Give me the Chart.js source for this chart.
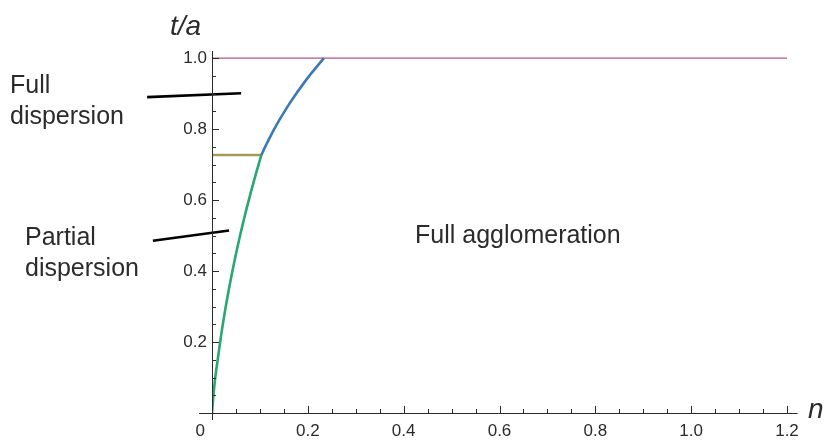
<!DOCTYPE html>
<html>
<head>
<meta charset="utf-8">
<script src="https://cdn.jsdelivr.net/npm/chart.js@4"></script>
<style>
  html, body { margin: 0; padding: 0; background: #fff; }
  #chart { display: block; }
</style>
</head>
<body>
<canvas id="chart" width="827" height="445"></canvas>
<script>
// values (n on x, t/a on y)
const partialN = [0, 0.0030, 0.0068, 0.0119, 0.0170, 0.0226, 0.0287, 0.0354, 0.0426, 0.0503, 0.0586, 0.0674, 0.0768, 0.0867, 0.0972, 0.103];
const partialT = [0, 0.05, 0.1, 0.15, 0.2, 0.25, 0.3, 0.35, 0.4, 0.45, 0.5, 0.55, 0.6, 0.65, 0.7, 0.727];
const fullN = [0.103, 0.1109, 0.1298, 0.1514, 0.176, 0.203, 0.2335];
const fullT = [0.727, 0.75, 0.8, 0.85, 0.9, 0.95, 1.0];
const upperN = [0, 1.2];
const upperT = [1, 1];
const kneeN = [0, 0.103];
const kneeT = [0.727, 0.727];
// pointer strokes next to the region names
const pointer1N = [-0.1354, 0.0607];
const pointer1T = [0.890, 0.901];
const pointer2N = [-0.1234, 0.0356];
const pointer2T = [0.4854, 0.5144];

const xMajor = [0, 0.2, 0.4, 0.6, 0.8, 1.0, 1.2];
const yMajor = [0.2, 0.4, 0.6, 0.8, 1.0];

const pts = (xs, ys) => xs.map((x, i) => ({ x, y: ys[i] }));
const isMajor = (v, list) => list.some(m => Math.abs(m - v) < 1e-6);

const INK = '#2b2b2b';
const FONT = '"Liberation Sans", Arial, sans-serif';

function line(data, color, width, extra) {
  return Object.assign({
    data,
    borderColor: color,
    borderWidth: width,
    pointRadius: 0,
    showLine: true,
    fill: false
  }, extra || {});
}

// inward ticks, overhanging axis lines and the text labels
const decor = {
  id: 'decor',
  afterDraw(chart) {
    const ctx = chart.ctx;
    const xs = chart.scales.x, ys = chart.scales.y;
    const x0 = xs.getPixelForValue(0), y0 = ys.getPixelForValue(0);
    ctx.save();
    ctx.strokeStyle = INK;
    ctx.lineWidth = 1;
    ctx.beginPath();
    ctx.moveTo(xs.getPixelForValue(-0.027), y0 + 0.5);
    ctx.lineTo(xs.getPixelForValue(1.222), y0 + 0.5);
    ctx.moveTo(x0 + 0.5, ys.getPixelForValue(-0.02));
    ctx.lineTo(x0 + 0.5, ys.getPixelForValue(1.02));
    xs.ticks.forEach(t => {
      const px = Math.round(xs.getPixelForValue(t.value)) + 0.5;
      const len = isMajor(t.value, xMajor) ? 7 : 4;
      ctx.moveTo(px, y0);
      ctx.lineTo(px, y0 - len);
    });
    ys.ticks.forEach(t => {
      const py = Math.round(ys.getPixelForValue(t.value)) + 0.5;
      const len = isMajor(t.value, yMajor) ? 7 : 4;
      ctx.moveTo(x0, py);
      ctx.lineTo(x0 + len, py);
    });
    ctx.stroke();

    ctx.fillStyle = INK;
    ctx.textAlign = 'left';
    ctx.textBaseline = 'alphabetic';
    ctx.font = '25px ' + FONT;
    ctx.fillText('Full', 10, 93);
    ctx.fillText('dispersion', 10, 124);
    ctx.fillText('Partial', 25, 245);
    ctx.fillText('dispersion', 25, 276);
    ctx.fillText('Full agglomeration', 415, 243);
    ctx.font = 'italic 28px ' + FONT;
    ctx.fillText('t/a', 170, 35);
    ctx.fillText('n', 808, 418);
    ctx.restore();
  }
};

new Chart(document.getElementById('chart'), {
  type: 'scatter',
  data: {
    datasets: [
      line(pts(fullN, fullT), '#3a78b7', 2.6, { tension: 0.25 }),
      line(pts(partialN, partialT), '#29a674', 2.6, { tension: 0.25 }),
      line(pts(kneeN, kneeT), '#a69a5b', 2.4),
      line(pts(upperN, upperT), '#b3558c', 1.4),
      line(pts(pointer1N, pointer1T), '#000', 2.6, { clip: false }),
      line(pts(pointer2N, pointer2T), '#000', 2.6, { clip: false })
    ]
  },
  options: {
    responsive: false,
    devicePixelRatio: 1,
    animation: false,
    layout: { padding: { left: 0, right: 40, top: 51, bottom: 0 } },
    plugins: { legend: { display: false }, tooltip: { enabled: false } },
    scales: {
      x: {
        type: 'linear',
        min: 0,
        max: 1.2,
        border: { display: false },
        grid: { display: false, drawTicks: false },
        afterFit: s => { s.height = 32; },
        ticks: {
          stepSize: 0.05,
          autoSkip: false,
          includeBounds: false,
          maxRotation: 0,
          padding: 8,
          color: INK,
          font: { family: FONT, size: 17 },
          callback: v => {
            if (!isMajor(v, xMajor)) return '';
            return v === 0 ? '0     ' : v.toFixed(1);
          }
        }
      },
      y: {
        type: 'linear',
        min: 0,
        max: 1.02,
        border: { display: false },
        grid: { display: false, drawTicks: false },
        afterFit: s => { s.width = 212; },
        ticks: {
          stepSize: 0.05,
          autoSkip: false,
          includeBounds: false,
          padding: 5,
          color: INK,
          font: { family: FONT, size: 17 },
          callback: v => isMajor(v, yMajor) ? v.toFixed(1) : ''
        }
      }
    }
  },
  plugins: [decor]
});
</script>
</body>
</html>
